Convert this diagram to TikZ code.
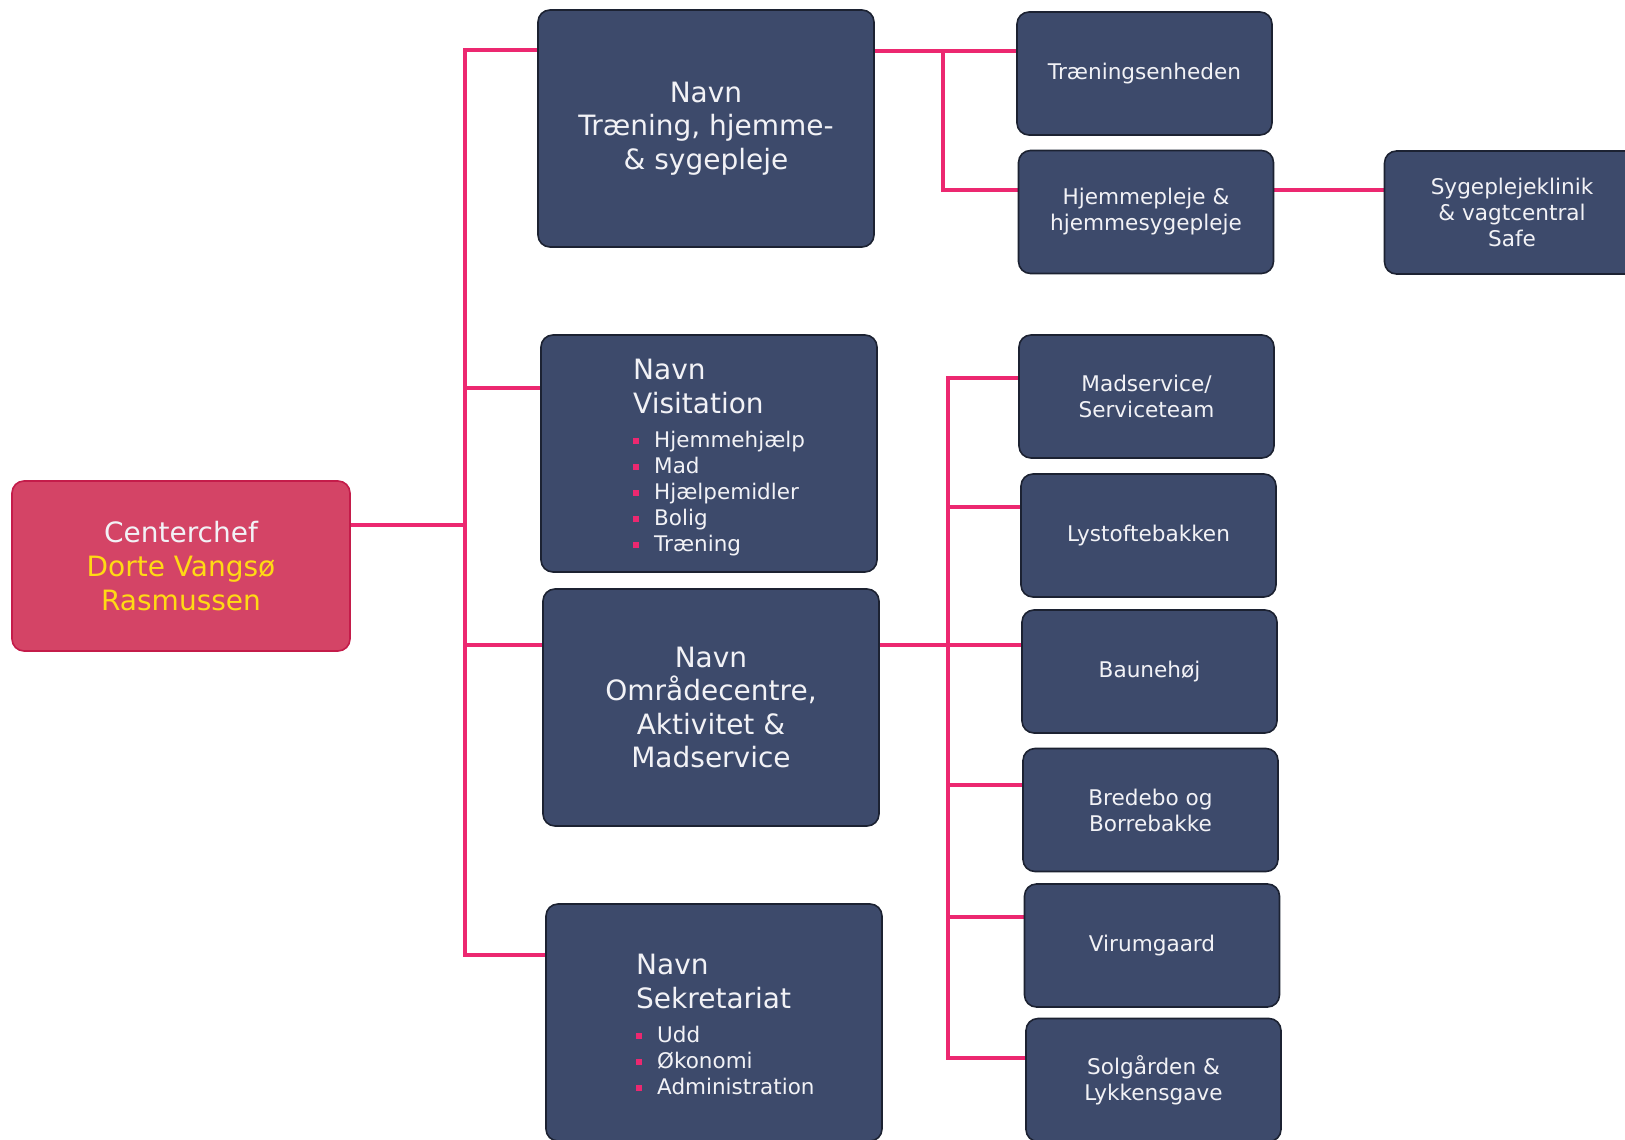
\documentclass[tikz,border=0pt]{standalone}
\usepackage{fontspec}
\setmainfont{DejaVu Sans}
\usetikzlibrary{backgrounds}
\definecolor{navy}{RGB}{61,74,107}
\definecolor{navyedge}{RGB}{28,34,50}
\definecolor{rasp}{RGB}{212,68,102}
\definecolor{raspedge}{RGB}{196,28,74}
\definecolor{linepink}{RGB}{236,40,112}
\definecolor{gold}{RGB}{255,218,20}
\definecolor{txt}{RGB}{242,242,246}
\newcommand\bul{\textcolor{linepink}{\rule[4pt]{6pt}{6pt}}\hspace{15pt}}
\begin{document}
\lineskiplimit=-100pt\relax
\begin{tikzpicture}[x=1pt,y=-1pt,
  navybox/.style={draw=navyedge, line width=1.6pt, fill=navy, rounded corners=12pt, text=txt, align=center, inner sep=0pt},
  bigbox/.style={navybox, minimum width=336pt, minimum height=237pt, font=\fontsize{28}{33.5}\selectfont},
  smallbox/.style={navybox, minimum width=255pt, minimum height=123pt, font=\fontsize{21.6}{26}\selectfont},
  listtext/.style={anchor=north west, text=txt, align=left, inner sep=0pt, font=\fontsize{21.5}{26}\selectfont},
  conn/.style={draw=linepink, line width=4.5pt}
]
\useasboundingbox (0,0) rectangle (1625,1140);

% head
\node[draw=raspedge, line width=1.6pt, fill=rasp, rounded corners=12pt, minimum width=338pt, minimum height=170pt, align=center, text=txt, font=\fontsize{28}{34}\selectfont] (cc) at (181,566) {Centerchef\\\textcolor{gold}{Dorte Vangsø}\\\textcolor{gold}{Rasmussen}};

% main boxes
\node[bigbox] (b1) at (706,128.5) {Navn\\Træning, hjemme-\\\& sygepleje};
\node[bigbox] (b2) at (709,453.5) {};
\node[listtext] (b2t) at (633,359) {\fontsize{28}{33.5}\selectfont Navn\\[8pt]\fontsize{28}{33.5}\selectfont Visitation\\[8pt]\bul Hjemmehjælp\\\bul Mad\\\bul Hjælpemidler\\\bul Bolig\\\bul Træning};
\node[bigbox] (b3) at (711,707.5) {Navn\\Områdecentre,\\Aktivitet \&\\Madservice};
\node[bigbox] (b4) at (714,1022.5) {};
\node[listtext] (b4t) at (636,954) {\fontsize{28}{33.5}\selectfont Navn\\[8pt]\fontsize{28}{33.5}\selectfont Sekretariat\\[8pt]\bul Udd\\\bul Økonomi\\\bul Administration};

% right boxes
\node[smallbox] (r1) at (1144.5,73.5) {Træningsenheden};
\node[smallbox] (r2) at (1146,212) {Hjemmepleje \&\\hjemmesygepleje};
\node[smallbox] (r3) at (1512,212.5) {Sygeplejeklinik\\\& vagtcentral\\Safe};
\node[smallbox] (m1) at (1146.5,396.5) {Madservice/\\Serviceteam};
\node[smallbox] (m2) at (1148.5,535.5) {Lystoftebakken};
\node[smallbox] (m3) at (1149.5,671.5) {Baunehøj};
\node[smallbox] (m4) at (1150.5,810) {Bredebo og\\Borrebakke};
\node[smallbox] (m5) at (1152,945.5) {Virumgaard};
\node[smallbox] (m6) at (1153.5,1080) {Solgården \&\\Lykkensgave};

\begin{pgfonlayer}{background}
\fill[white] (0,0) rectangle (1625,1140);
% main trunk
\coordinate (tA) at (465,50);
\coordinate (tCC) at (465,525);
\coordinate (tB2) at (465,388);
\coordinate (tB3) at (465,645);
\coordinate (tB4) at (465,955);
\draw[conn] (b1.west |- tA) -- (tA) -- (tB4) -- (b4.west |- tB4);
\draw[conn] (cc.east |- tCC) -- (tCC);
\draw[conn] (tB2) -- (b2.west |- tB2);
\draw[conn] (tB3) -- (b3.west |- tB3);
% box1 branch
\coordinate (sA) at (943,51);
\coordinate (sB) at (943,190);
\draw[conn] (b1.east |- sA) -- (r1.west |- sA);
\draw[conn] (sA) -- (sB) -- (r2.west |- sB);
\draw[conn] (r2.east |- sB) -- (r3.west |- sB);
% second trunk
\coordinate (u1) at (948,378);
\coordinate (u2) at (948,507);
\coordinate (u3) at (948,645);
\coordinate (u4) at (948,785);
\coordinate (u5) at (948,917);
\coordinate (u6) at (948,1058);
\draw[conn] (m1.west |- u1) -- (u1) -- (u6) -- (m6.west |- u6);
\draw[conn] (b3.east |- u3) -- (m3.west |- u3);
\draw[conn] (u2) -- (m2.west |- u2);
\draw[conn] (u4) -- (m4.west |- u4);
\draw[conn] (u5) -- (m5.west |- u5);
\end{pgfonlayer}
\end{tikzpicture}
\end{document}
